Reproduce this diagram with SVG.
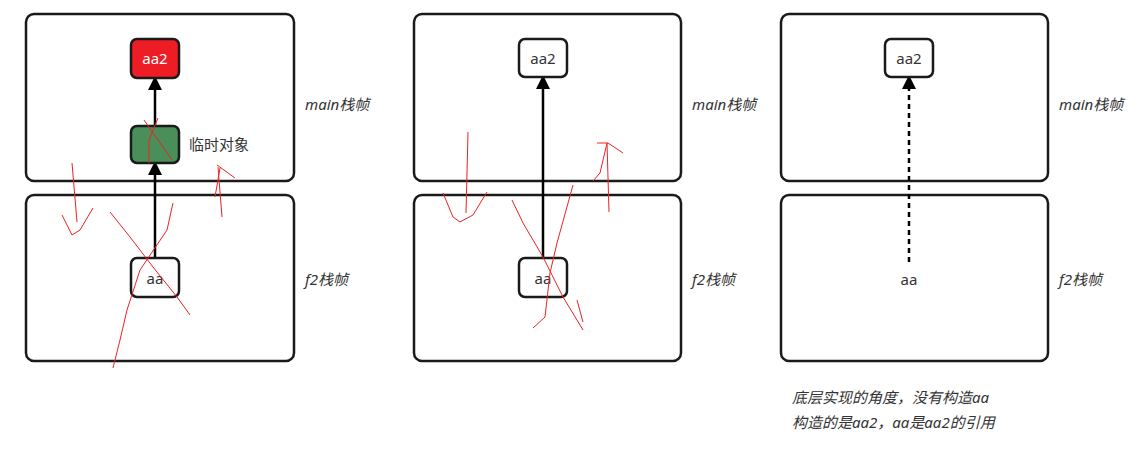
<svg xmlns="http://www.w3.org/2000/svg" width="1145" height="454" viewBox="0 0 1145 454">
<style>
.frame{fill:#fff;stroke:#1a1a1a;stroke-width:2.5}
.node{stroke:#1a1a1a;stroke-width:2.5}
.t{font-family:"Noto Sans","Noto Sans CJK SC",sans-serif;font-size:15px;fill:#333;text-anchor:middle}
.lab{font-family:"Noto Sans","Noto Sans CJK SC",sans-serif;font-size:15px;fill:#333;font-style:italic}
.c{stroke:#000;stroke-width:2.5;fill:none}
.r{stroke:#f02020;stroke-width:1;fill:none}
</style>
<defs>
<marker id="a" markerWidth="14" markerHeight="14" refX="10" refY="7" orient="auto" markerUnits="userSpaceOnUse" viewBox="0 0 14 14"><path d="M0,0 L14,7 L0,14 Z" fill="#000"/></marker></defs>
<g id="frames">
<rect class="frame" x="26" y="14" width="268" height="167" rx="8"/>
<rect class="frame" x="26" y="195" width="268" height="166" rx="8"/>
<rect class="frame" x="414" y="14" width="267" height="167" rx="8"/>
<rect class="frame" x="414" y="195" width="267" height="166" rx="8"/>
<rect class="frame" x="781" y="14" width="267" height="167" rx="8"/>
<rect class="frame" x="781" y="195" width="267" height="166" rx="8"/>
</g>
<g id="connectors">
<line class="c" x1="155" y1="258" x2="155" y2="165" marker-end="url(#a)"/>
<line class="c" x1="155" y1="126" x2="155" y2="80" marker-end="url(#a)"/>
<line class="c" x1="543" y1="258" x2="543" y2="79" marker-end="url(#a)"/>
<line class="c" x1="909" y1="262" x2="909" y2="79" stroke-dasharray="5,4" marker-end="url(#a)"/>
</g>
<g id="n1aa2"><rect class="node" x="131" y="39" width="48" height="39" rx="6" fill="#ee1c25"/><text class="t" x="155" y="64" style="fill:#fff">aa2</text></g>
<g id="n1tmp"><rect class="node" x="131" y="126" width="48" height="37" rx="6" fill="#4a8f5a"/><text class="t" x="189" y="150" style="text-anchor:start">临时对象</text></g>
<g id="n1aa"><rect class="node" x="131" y="258" width="48" height="39" rx="6" fill="#fff"/><text class="t" x="155" y="284">aa</text></g>
<g id="n2aa2"><rect class="node" x="519" y="39" width="48" height="38" rx="6" fill="#fff"/><text class="t" x="543" y="64">aa2</text></g>
<g id="n2aa"><rect class="node" x="519" y="258" width="48" height="39" rx="6" fill="#fff"/><text class="t" x="543" y="284">aa</text></g>
<g id="n3aa2"><rect class="node" x="885" y="39" width="48" height="38" rx="6" fill="#fff"/><text class="t" x="909" y="64">aa2</text></g>
<g id="n3aa"><text class="t" x="909" y="285">aa</text></g>
<g id="labels">
<text class="lab" x="305" y="110">main栈帧</text>
<text class="lab" x="305" y="285">f2栈帧</text>
<text class="lab" x="692" y="110">main栈帧</text>
<text class="lab" x="692" y="285">f2栈帧</text>
<text class="lab" x="1059" y="110">main栈帧</text>
<text class="lab" x="1059" y="285">f2栈帧</text>
<text class="lab" x="792" y="403">底层实现的角度，没有构造aa</text>
<text class="lab" x="792" y="428">构造的是aa2，aa是aa2的引用</text>
</g>
<g id="scribbles">
<path class="r" d="M144,120 L172,160 M158,118 L149,140 L149,163"/>
<path class="r" d="M72,163 L77,222 M62,215 L72,235 L80,230 L93,208"/>
<path class="r" d="M222,217 L218,167 M217,165 L235,178 M215,197 L220,168"/>
<path class="r" d="M110,212 L130,237 L153,267 L177,297 L190,315 M173,203 L167,230 L140,270 L127,310 L120,340 L113,368"/>
<path class="r" d="M468,132 L466,213 M443,193 L453,217 L460,222 L473,215 L487,192"/>
<path class="r" d="M609,212 L607,143 M597,143 L608,143 L623,153 M593,181 L600,173 L607,143"/>
<path class="r" d="M512,200 L523,223 L543,257 L563,297 L577,320 L583,330 M577,300 L583,322 M573,185 L557,243 L550,273 L545,317 L533,328"/>
</g>
</svg>
